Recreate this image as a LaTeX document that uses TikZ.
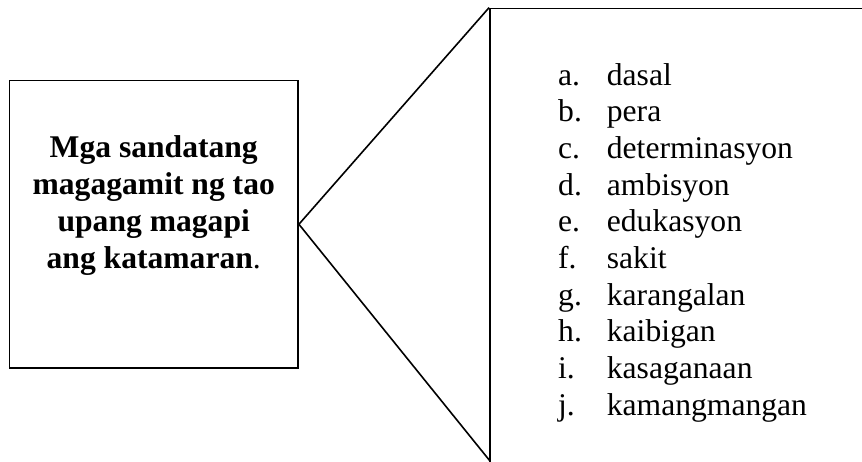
\documentclass[tikz,border=0pt]{standalone}
\usepackage{fontspec}
\setmainfont{Liberation Serif}
\begin{document}
\begin{tikzpicture}[x=1pt,y=-1pt,
  frame/.style={draw=black,line width=1.8pt},
  conn/.style={draw=black,line width=1.6pt},
  txt/.style={inner sep=0pt,anchor=base,font=\fontsize{31.6}{36.7}\selectfont\bfseries},
  lab/.style={inner sep=0pt,anchor=base west,font=\fontsize{31.6}{36.7}\selectfont}]
\useasboundingbox (0,0) rectangle (862,461);
\clip (0,0) rectangle (862,461);
% left box
\node[frame,minimum width=288.5pt,minimum height=287.5pt,inner sep=0pt] (box) at (153.75,224.25) {};
\node[txt] (t1) at (153.75,157.7) {Mga sandatang};
\node[txt] (t2) at (153.75,194.5) {magagamit ng tao};
\node[txt] (t3) at (153.75,231.3) {upang magapi};
\node[txt] (t4) at (153.75,268.0) {ang katamaran\textmd{.}};
% right box (extends past the page)
\node[frame,minimum width=420pt,minimum height=520pt,inner sep=0pt] (list) at (700,268.5) {};
\coordinate (low) at (490,461);
\draw[conn] (box.east) -- (list.north west);
\draw[conn] (box.east) -- (low);
% list
\foreach \l/\w [count=\i from 0] in {a/dasal,b/pera,c/determinasyon,d/ambisyon,e/edukasyon,f/sakit,g/karangalan,h/kaibigan,i/kasaganaan,j/kamangmangan}{
  \node[lab] (l\i) at (558,85+36.7*\i) {\l.};
  \node[lab] (w\i) at (606.7,85+36.7*\i) {\w};
}
\end{tikzpicture}
\end{document}
